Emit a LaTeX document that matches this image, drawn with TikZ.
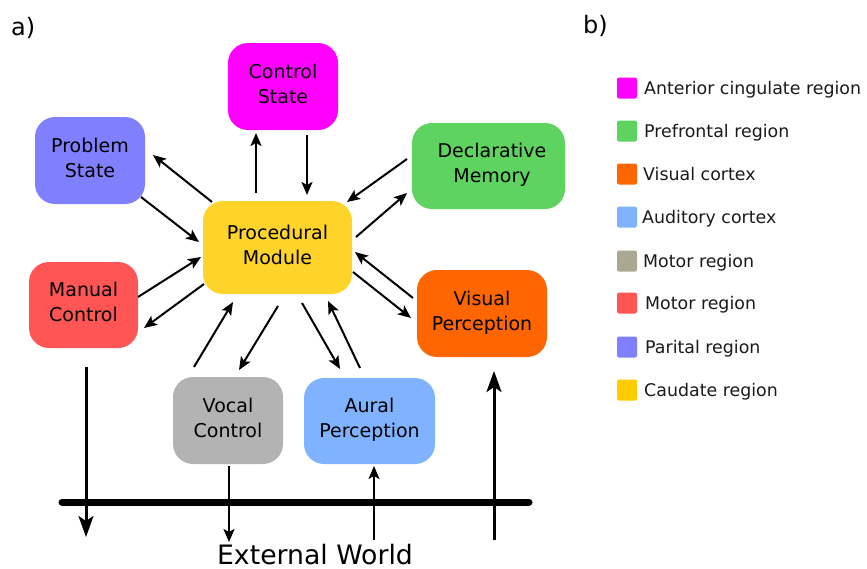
\documentclass[tikz,border=0pt]{standalone}
\usepackage{fontspec}
\setmainfont{DejaVu Sans}
\usetikzlibrary{arrows.meta,calc}

\definecolor{cctrl}{HTML}{FF00FF}
\definecolor{cprob}{HTML}{8080FF}
\definecolor{cproc}{HTML}{FFD42A}
\definecolor{cdecl}{HTML}{5FD35F}
\definecolor{cman}{HTML}{FF5555}
\definecolor{cvis}{HTML}{FF6600}
\definecolor{cvoc}{HTML}{B3B3B3}
\definecolor{caur}{HTML}{80B3FF}
\definecolor{cmotor}{HTML}{ACA793}
\definecolor{ccaud}{HTML}{FFCC00}
\definecolor{ctext}{HTML}{1A1A1A}

\tikzset{
  module/.style={rounded corners=20pt, inner sep=0pt, align=center,
    font=\fontsize{19}{25}\selectfont, text=black, text depth=6pt},
  arr/.style={line width=2pt, -{Stealth[length=13pt,width=11pt,inset=3pt]}},
  bigarr/.style={line width=3pt, -{Stealth[length=21pt,width=15pt,inset=5pt]}},
  swatch/.style={rounded corners=2pt, inner sep=0pt, minimum width=20pt, minimum height=21pt},
  legtext/.style={anchor=base west, inner sep=0pt, text=ctext,
    font=\fontsize{17.4}{20}\selectfont},
  panel/.style={anchor=base west, inner sep=0pt, font=\fontsize{24}{28}\selectfont},
}

\begin{document}
\begin{tikzpicture}[x=1pt, y=-1pt]
\useasboundingbox (0,0) rectangle (867,568);

% panel labels
\node[panel] (la) at (11,35) {a)};
\node[panel] (lb) at (583,33) {b)};

% modules
\node[module, fill=cctrl, minimum width=110pt, minimum height=87pt] (ctrl) at (283,86.5) {Control\\State};
\node[module, fill=cprob, minimum width=110pt, minimum height=87pt] (prob) at (90,160.5) {Problem\\State};
\node[module, fill=cproc, minimum width=149pt, minimum height=93pt] (proc) at (277.5,247.5) {Procedural\\Module};
\node[module, fill=cdecl, minimum width=153pt, minimum height=86pt] (decl) at (488.5,166) {\hspace*{7pt}Declarative\\\hspace*{7pt}Memory};
\node[module, fill=cman, minimum width=109pt, minimum height=86pt] (man) at (83.5,305) {Manual\\Control};
\node[module, fill=cvis, minimum width=130pt, minimum height=87pt] (vis) at (482,313.5) {Visual\\Perception};
\node[module, fill=cvoc, minimum width=110pt, minimum height=87pt] (voc) at (228,420.5) {Vocal\\Control};
\node[module, fill=caur, minimum width=131pt, minimum height=86pt] (aur) at (369.5,421) {Aural\\Perception};

% links between the procedural module and the other modules
\draw[arr] ($(proc)+(-21.5,-54.5)$) -- ($(ctrl)+(-27,46.5)$);
\draw[arr] ($(ctrl)+(24,48.5)$) -- ($(proc)+(29.5,-52.5)$);
\draw[arr] ($(proc)+(-65.5,-45.5)$) -- ($(prob)+(63,-5.5)$);
\draw[arr] ($(prob)+(51,36.5)$) -- ($(proc)+(-78.5,-5.5)$);
\draw[arr] ($(decl)+(-81.5,-7)$) -- ($(proc)+(69.5,-45.5)$);
\draw[arr] ($(proc)+(78.5,-10.5)$) -- ($(decl)+(-81.5,27)$);
\draw[arr] ($(vis)+(-69,-15.5)$) -- ($(proc)+(77.5,4.5)$);
\draw[arr] ($(proc)+(75.5,24.5)$) -- ($(vis)+(-71,4.5)$);
\draw[arr] ($(man)+(54.5,-8)$) -- ($(proc)+(-76.5,9.5)$);
\draw[arr] ($(proc)+(-73.5,36.5)$) -- ($(man)+(60.5,23)$);
\draw[arr] ($(voc)+(-34,-53.5)$) -- ($(proc)+(-44.5,54.5)$);
\draw[arr] ($(proc)+(0.5,58.5)$) -- ($(voc)+(11,-50.5)$);
\draw[arr] ($(proc)+(24.5,55.5)$) -- ($(aur)+(-29.5,-52)$);
\draw[arr] ($(aur)+(-9.5,-53)$) -- ($(proc)+(50.5,53.5)$);

% external world
\coordinate (wl) at (62,502);
\coordinate (wr) at (529,502);
\draw[line width=7pt, line cap=round] (wl) -- (wr);
\node[anchor=base, inner sep=0pt, font=\fontsize{26.7}{30}\selectfont] (ext) at (315,564) {External World};

\coordinate (manout) at (86,537);
\coordinate (vocout) at (229,542);
\coordinate (aurin) at (374,540);
\coordinate (visin) at (494,540);
\draw[bigarr] ($(man)+(2.5,62)$) -- (manout);
\draw[arr] ($(voc)+(1,45.5)$) -- (vocout);
\draw[arr] (aurin) -- ($(aur)+(4.5,45)$);
\draw[bigarr] (visin) -- ($(vis)+(12,57.5)$);

% legend
\foreach \i/\c/\y/\tx/\t in {
  1/cctrl/88/644/Anterior cingulate region,
  2/cdecl/131/644/Prefrontal region,
  3/cvis/174/643/Visual cortex,
  4/caur/217/642/Auditory cortex,
  5/cmotor/261/643/Motor region,
  6/cman/303/645/Motor region,
  7/cprob/347/645/Parital region,
  8/ccaud/390/644/Caudate region}{
  \node[swatch, fill=\c] (sw\i) at (627,\y) {};
  \node[legtext] (lg\i) at (\tx,\y+6.3) {\t};
}
\end{tikzpicture}
\end{document}
